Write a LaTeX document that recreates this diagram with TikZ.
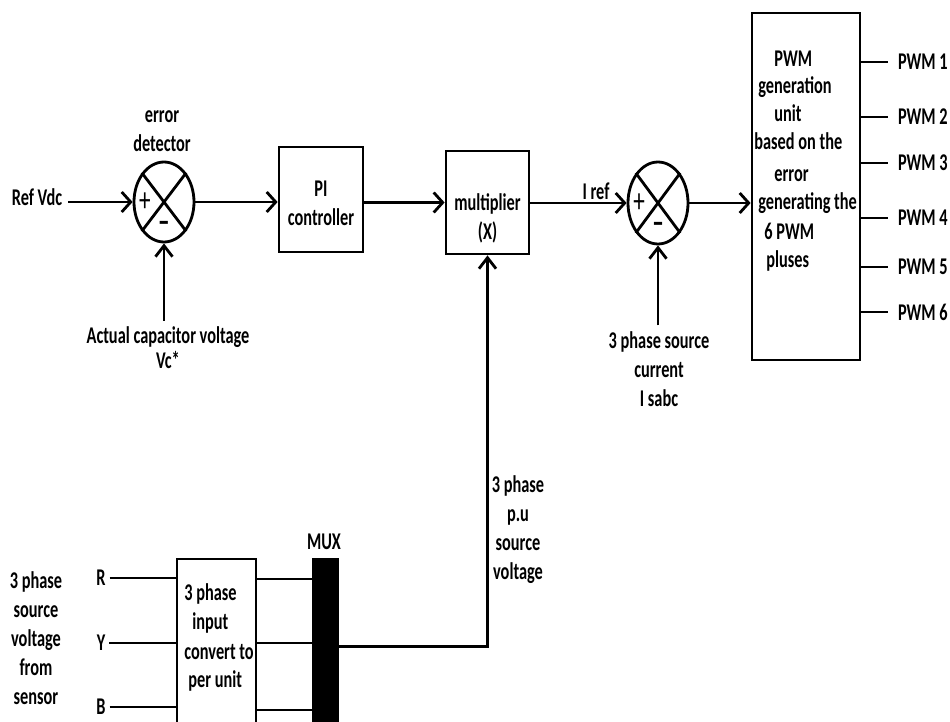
\documentclass[tikz,border=0pt]{standalone}
\usepackage{fontspec}
\setmainfont{Carlito}[FakeStretch=0.68]
\usetikzlibrary{arrows.meta,shapes.geometric}

\begin{document}
\begin{tikzpicture}[x=1pt,y=-1pt,line width=2.8pt,
  font=\fontsize{24}{29}\selectfont\bfseries,
  blk/.style={draw,inner sep=0pt},
  sumnode/.style={draw,ellipse,inner sep=0pt,minimum width=60,minimum height=80},
  txt/.style={inner sep=0pt,outer sep=6pt,align=center},
  sig/.style={-{Straight Barb[length=9pt,width=20pt]}},
  upsig/.style={-{Straight Barb[length=11pt,width=17pt]}},
  sgn/.style={inner sep=0pt,font=\fontsize{34}{34}\selectfont}]
\useasboundingbox (0,0) rectangle (950,722);

% blocks
\node[sumnode] (err) at (164,202) {};
\node[blk,minimum width=84,minimum height=105] (pi) at (321,199.5) {};
\node[blk,minimum width=83,minimum height=103] (mul) at (487.5,202.5) {};
\node[sumnode,minimum height=82] (sum) at (658,203) {};
\node[blk,minimum width=108,minimum height=347] (pwm) at (806,186.5) {};
\node[blk,minimum width=79,minimum height=175] (cnv) at (216.5,646.5) {};
\node[blk,fill=black,minimum width=25,minimum height=175] (mux) at (325.5,646.5) {};

\foreach \s in {err,sum} {
  \draw (\s.north west) -- (\s.south east) (\s.north east) -- (\s.south west);
  \node[sgn] (plus\s) at ([xshift=-19pt]\s.center) {+};
  \node[sgn] (minus\s) at ([yshift=-25pt]\s.center) {\bfseries\textendash};
}

% labels
\node[txt] (ref) at (37,197) {Ref Vdc};
\node[txt] (errlbl) at (162,131) {error\\detector};
\node[txt] (pitxt) at (321,203.5) {PI\\controller};
\node[txt] (multxt) at (487.5,218) {multiplier\\(X)};
\node[txt] (iref) at (596,191) {I ref};
\node[txt] (act) at (168,348) {Actual capacitor voltage\\[-4pt]Vc*};
\node[txt] (isrc) at (659,369) {3 phase source\\current\\I sabc};
\node[txt] (pu) at (518,530) {3 phase\\p.u\\source\\voltage};
\node[txt] (vsrc) at (36,638) {3 phase\\source\\voltage\\from\\sensor};
\node[txt] (muxlbl) at (324,542) {MUX};

\foreach \t/\x/\y [count=\i] in {PWM/773/60, generation/757/87, unit/773/115,
    based on the/753/143, error/773/175, generating the/757/203, 6 PWM/763/232, pluses/765/260}
  \node[anchor=base west,inner sep=0pt] (pw\i) at (\x,\y+7) {\t};
\foreach \t/\x/\y [count=\i] in {3 phase/183/593, input/191/622, convert to/183/652, per unit/187/680}
  \node[anchor=base west,inner sep=0pt] (cv\i) at (\x,\y+7) {\t};

% outputs and inputs
\foreach \n/\y in {1/62,2/117,3/163,4/218,5/267,6/312} {
  \node[txt,anchor=west,outer sep=10pt] (out\n) at (888,\y) {PWM \n};
  \draw (pwm.east |- out\n.west) -- (out\n.west);
}
\foreach \n/\y/\z in {R/578/579, Y/643/643, B/707/710} {
  \node[txt,outer sep=4pt] (in\n) at (101,\y) {\n};
  \draw (in\n.east) -- (cnv.west |- in\n.east);
  \draw (cnv.east |- 0,\z) -- (mux.west |- 0,\z);
}

% signal path
\draw[sig] (ref.east |- err.west) -- (err.west);
\draw[upsig] (err.south |- act.north) -- (err.south);
\draw[sig] (err.east) -- (err.east -| pi.west);
\draw[sig] (pi.east |- mul.west) -- (mul.west);
\draw[sig] (mul.east |- sum.west) -- (sum.west);
\draw[upsig] (sum.south |- isrc.north) -- (sum.south);
\draw[sig] (sum.east) -- (sum.east -| pwm.west);
\draw[upsig] (mux.east) -| (mul.south);
\end{tikzpicture}
\end{document}
